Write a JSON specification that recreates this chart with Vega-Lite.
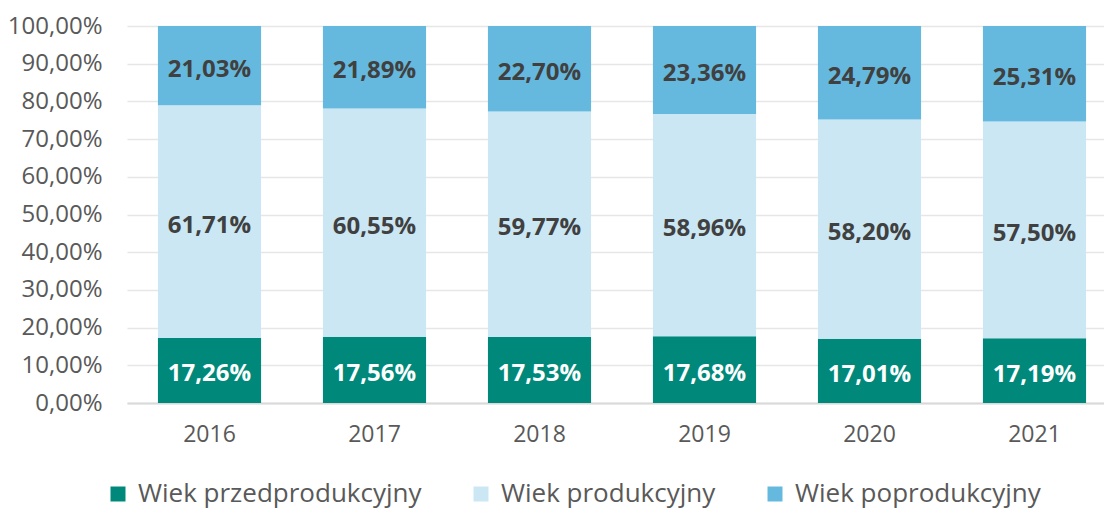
{
  "$schema": "https://vega.github.io/schema/vega-lite/v6.json",
  "autosize": {"type": "none"},
  "padding": {"left": 127, "top": 26, "right": 0, "bottom": 107},
  "width": 977,
  "height": 377,
  "background": "white",
  "config": {
    "font": "Open Sans",
    "view": {"stroke": null},
    "axisY": {"labelOverlap": false, "labelFlush": false}
  },
  "data": {
    "values": [
      {"year": "2016", "group": "Wiek przedprodukcyjny", "ord": 1, "v": 17.26},
      {"year": "2016", "group": "Wiek produkcyjny", "ord": 2, "v": 61.71},
      {"year": "2016", "group": "Wiek poprodukcyjny", "ord": 3, "v": 21.03},
      {"year": "2017", "group": "Wiek przedprodukcyjny", "ord": 1, "v": 17.56},
      {"year": "2017", "group": "Wiek produkcyjny", "ord": 2, "v": 60.55},
      {"year": "2017", "group": "Wiek poprodukcyjny", "ord": 3, "v": 21.89},
      {"year": "2018", "group": "Wiek przedprodukcyjny", "ord": 1, "v": 17.53},
      {"year": "2018", "group": "Wiek produkcyjny", "ord": 2, "v": 59.77},
      {"year": "2018", "group": "Wiek poprodukcyjny", "ord": 3, "v": 22.70},
      {"year": "2019", "group": "Wiek przedprodukcyjny", "ord": 1, "v": 17.68},
      {"year": "2019", "group": "Wiek produkcyjny", "ord": 2, "v": 58.96},
      {"year": "2019", "group": "Wiek poprodukcyjny", "ord": 3, "v": 23.36},
      {"year": "2020", "group": "Wiek przedprodukcyjny", "ord": 1, "v": 17.01},
      {"year": "2020", "group": "Wiek produkcyjny", "ord": 2, "v": 58.20},
      {"year": "2020", "group": "Wiek poprodukcyjny", "ord": 3, "v": 24.79},
      {"year": "2021", "group": "Wiek przedprodukcyjny", "ord": 1, "v": 17.19},
      {"year": "2021", "group": "Wiek produkcyjny", "ord": 2, "v": 57.50},
      {"year": "2021", "group": "Wiek poprodukcyjny", "ord": 3, "v": 25.31}
    ]
  },
  "transform": [
    {"stack": "v", "groupby": ["year"], "sort": [{"field": "ord", "order": "ascending"}], "as": ["v0", "v1"]},
    {"calculate": "(datum.v0 + datum.v1) / 2", "as": "mid"},
    {"calculate": "replace(format(datum.v, '.2f'), '.', ',') + '%'", "as": "lab"}
  ],
  "encoding": {
    "x": {
      "field": "year",
      "type": "nominal",
      "scale": {"range": [0, 990], "paddingInner": 0.375, "paddingOuter": 0.1875},
      "axis": {
        "title": null,
        "labelAngle": 0,
        "labelFontSize": 23,
        "labelColor": "#595959",
        "labelPadding": 20,
        "ticks": false,
        "domainColor": "#D9D9D9",
        "domainWidth": 2,
        "grid": false
      }
    }
  },
  "layer": [
    {
      "mark": {"type": "bar"},
      "encoding": {
        "y": {
          "field": "v0",
          "type": "quantitative",
          "scale": {"domain": [0, 100]},
          "axis": {
            "title": null,
            "values": [0, 10, 20, 30, 40, 50, 60, 70, 80, 90, 100],
            "labelExpr": "replace(format(datum.value, '.2f'), '.', ',') + '%'",
            "labelFontSize": 24,
            "labelColor": "#595959",
            "labelPadding": 25,
            "labelOverlap": false,
            "labelFlush": false,
            "ticks": false,
            "domain": false,
            "gridColor": "#E6E6E6",
            "gridWidth": 1.5
          }
        },
        "y2": {"field": "v1"},
        "color": {
          "field": "group",
          "type": "nominal",
          "sort": ["Wiek przedprodukcyjny", "Wiek produkcyjny", "Wiek poprodukcyjny"],
          "scale": {
            "domain": ["Wiek przedprodukcyjny", "Wiek produkcyjny", "Wiek poprodukcyjny"],
            "range": ["#00897B", "#CBE7F4", "#66B9DE"]
          },
          "legend": {
            "title": null,
            "orient": "none",
            "direction": "horizontal",
            "legendX": -22,
            "legendY": 455,
            "symbolType": "square",
            "symbolSize": 225,
            "symbolStrokeWidth": 0,
            "symbolOpacity": 1,
            "labelFontSize": 26,
            "labelLimit": 0,
            "labelColor": "#595959",
            "labelOffset": 7,
            "columnPadding": 46
          }
        }
      }
    },
    {
      "mark": {"type": "text", "fontSize": 24, "fontWeight": "bold", "dy": 4},
      "encoding": {
        "y": {
          "field": "mid",
          "type": "quantitative",
          "axis": {
            "title": null,
            "values": [0, 10, 20, 30, 40, 50, 60, 70, 80, 90, 100],
            "labelExpr": "replace(format(datum.value, '.2f'), '.', ',') + '%'",
            "labelFontSize": 24,
            "labelColor": "#595959",
            "labelPadding": 25,
            "labelOverlap": false,
            "labelFlush": false,
            "ticks": false,
            "domain": false,
            "gridColor": "#E6E6E6",
            "gridWidth": 1.5
          }
        },
        "text": {"field": "lab"},
        "color": {
          "condition": {"test": "datum.ord == 1", "value": "#FFFFFF"},
          "value": "#404040"
        }
      }
    }
  ]
}
